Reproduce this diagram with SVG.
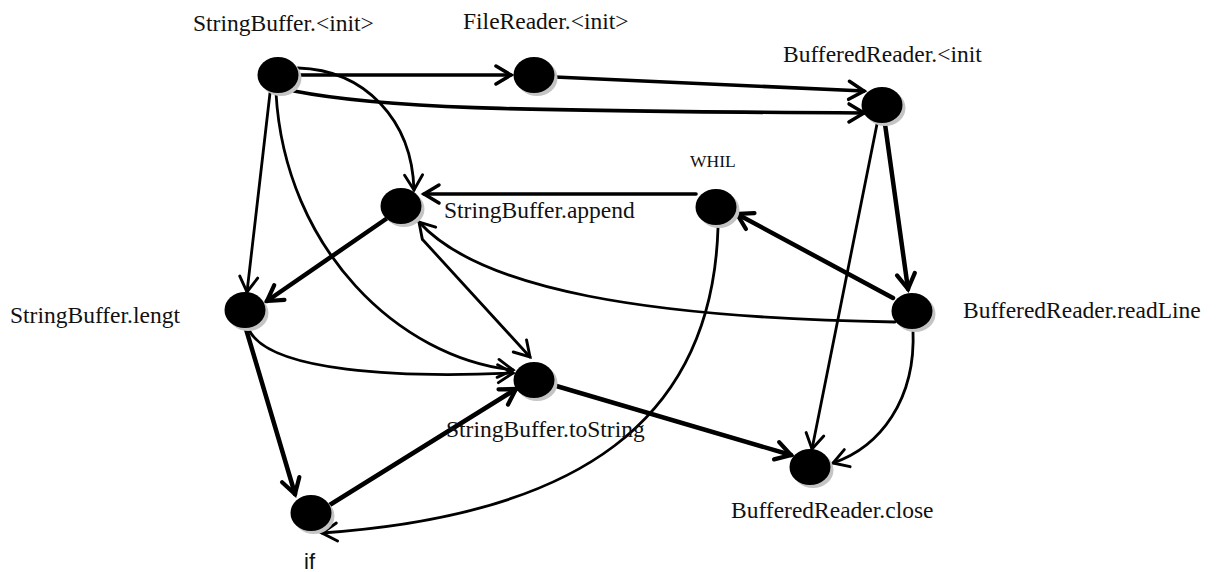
<svg xmlns="http://www.w3.org/2000/svg" width="1224" height="572" viewBox="0 0 1224 572">
<style>
.lbl{font-family:"Liberation Serif","Times New Roman",serif;font-size:23.5px;fill:#111}
.sm{font-family:"Liberation Serif","Times New Roman",serif;font-size:17.5px;fill:#111}
.sans{font-family:"Liberation Sans",Arial,sans-serif;font-size:22px;fill:#111}
.dot{fill:#000}
.sh{fill:#c4c4c4}
.e{fill:none;stroke:#000;stroke-linecap:round}
.t{stroke-width:2.8;marker-end:url(#aT)}
.m{stroke-width:3.6;marker-end:url(#aM)}
.k{stroke-width:4.5;marker-end:url(#aK)}
</style>
<defs>
<marker id="aT" viewBox="-20 -12 24 24" refX="0" refY="0" markerWidth="24" markerHeight="24" markerUnits="userSpaceOnUse" orient="auto"><path d="M-15,-9 L0,0 L-15,9" fill="none" stroke="#000" stroke-width="2.9" stroke-linecap="round" stroke-linejoin="miter"/></marker>
<marker id="aM" viewBox="-20 -12 24 24" refX="0" refY="0" markerWidth="24" markerHeight="24" markerUnits="userSpaceOnUse" orient="auto"><path d="M-15,-9 L0,0 L-15,9" fill="none" stroke="#000" stroke-width="3.5" stroke-linecap="round" stroke-linejoin="miter"/></marker>
<marker id="aK" viewBox="-20 -12 24 24" refX="0" refY="0" markerWidth="24" markerHeight="24" markerUnits="userSpaceOnUse" orient="auto"><path d="M-15,-9 L0,0 L-15,9" fill="none" stroke="#000" stroke-width="4.2" stroke-linecap="round" stroke-linejoin="miter"/></marker>
</defs>
<rect width="1224" height="572" fill="#fff"/>
<g id="connectors">
<path class="e m" d="M298,75 L511,75"/>
<path class="e m" d="M555,77 L864,91"/>
<path class="e m" d="M294,91 C380,108 500,111 864,113"/>
<path class="e t" d="M298,68 C365,70 412,120 414,190"/>
<path class="e t" d="M270,93 L247,292"/>
<path class="e t" d="M276,93 C285,250 400,358 513,370"/>
<path class="e k" d="M386,219 L267,301"/>
<path class="e t" d="M423,240 L530,357"/>
<path class="e m" d="M696,194 L424,194"/>
<path class="e k" d="M893,298 L737,214"/>
<path class="e k" d="M885,124 L908,289"/>
<path class="e t" d="M877,124 L812,449"/>
<path class="e t" d="M895,322 C650,318 480,290 419,222"/>
<path class="e t" d="M913,330 C916,400 880,447 833,463"/>
<path class="e k" d="M553,385 L791,455"/>
<path class="e t" d="M249,330 C270,372 400,378 513,373"/>
<path class="e k" d="M246,329 L295,494"/>
<path class="e k" d="M328,506 L516,389"/>
<path class="e t" d="M718,228 C712,420 580,515 322,533"/>
</g>
<g id="n-sbinit"><ellipse class="sh" cx="281" cy="78" rx="20.5" ry="18"/><ellipse class="dot" cx="278" cy="75" rx="20.5" ry="18"/><text class="lbl" x="193" y="31">StringBuffer.&lt;init&gt;</text></g>
<g id="n-frinit"><ellipse class="sh" cx="537" cy="78" rx="20.5" ry="18"/><ellipse class="dot" cx="534" cy="75" rx="20.5" ry="18"/><text class="lbl" x="463" y="29">FileReader.&lt;init&gt;</text></g>
<g id="n-brinit"><ellipse class="sh" cx="885" cy="108" rx="20.5" ry="18"/><ellipse class="dot" cx="882" cy="105" rx="20.5" ry="18"/><text class="lbl" x="783" y="62">BufferedReader.&lt;init</text></g>
<g id="n-while"><ellipse class="sh" cx="719" cy="210" rx="20.5" ry="18"/><ellipse class="dot" cx="716" cy="207" rx="20.5" ry="18"/><text class="sm" x="690" y="167">WHIL</text></g>
<g id="n-append"><ellipse class="sh" cx="404" cy="209" rx="20.5" ry="18"/><ellipse class="dot" cx="401" cy="206" rx="20.5" ry="18"/><text class="lbl" x="444" y="218">StringBuffer.append</text></g>
<g id="n-length"><ellipse class="sh" cx="248" cy="313" rx="20.5" ry="18"/><ellipse class="dot" cx="245" cy="310" rx="20.5" ry="18"/><text class="lbl" x="10" y="323">StringBuffer.lengt</text></g>
<g id="n-readline"><ellipse class="sh" cx="915" cy="314" rx="20.5" ry="18"/><ellipse class="dot" cx="912" cy="311" rx="20.5" ry="18"/><text class="lbl" x="963" y="318">BufferedReader.readLine</text></g>
<g id="n-tostring"><ellipse class="sh" cx="537" cy="383" rx="20.5" ry="18"/><ellipse class="dot" cx="534" cy="380" rx="20.5" ry="18"/><text class="lbl" x="446" y="437">StringBuffer.toString</text></g>
<g id="n-close"><ellipse class="sh" cx="813" cy="470" rx="20.5" ry="18"/><ellipse class="dot" cx="810" cy="467" rx="20.5" ry="18"/><text class="lbl" x="731" y="518">BufferedReader.close</text></g>
<g id="n-if"><ellipse class="sh" cx="314" cy="516" rx="20.5" ry="18"/><ellipse class="dot" cx="311" cy="513" rx="20.5" ry="18"/><text class="sans" x="304" y="569">if</text></g>
</svg>
